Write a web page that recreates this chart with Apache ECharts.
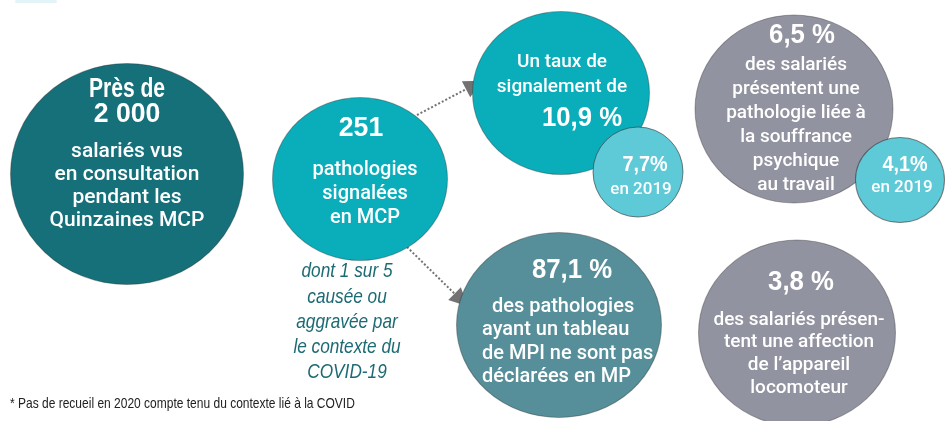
<!DOCTYPE html>
<html>
<head>
<meta charset="utf-8">
<script src="https://cdn.jsdelivr.net/npm/echarts@6/dist/echarts.min.js"></script>
<style>
html,body{margin:0;padding:0;background:#fff;}
#main{width:952px;height:421px;}
</style>
</head>
<body>
<div id="main"></div>
<script>
// chiffres de l'infographie
var headValues = ['2 000', '251', '10,9 %', '87,1 %', '6,5 %', '3,8 %'];
var prior2019 = ['7,7%', '4,1%'];
var priorLabel = 'en 2019';
var headPrefix = 'Près de';
var captions = [
    'salariés vus\nen consultation\npendant les\nQuinzaines MCP',
    'pathologies\nsignalées\nen MCP',
    'Un taux de\nsignalement de',
    '  des pathologies\nayant un tableau\nde MPI ne sont pas\ndéclarées en MP',
    'des salariés\nprésentent une\npathologie liée à\nla souffrance\npsychique\nau travail',
    'des salariés présen-\ntent une affection\nde l\u2019appareil\nlocomoteur'
];
var covidNote = 'dont 1 sur 5\ncausée ou\naggravée par\nle contexte du\nCOVID-19';
var footnote = '* Pas de recueil en 2020 compte tenu du contexte lié à la COVID';

// mise en page des bulles : centre x, centre y, largeur, hauteur
var bubbleBox = [
    [127, 174, 233, 221],
    [360, 179, 175, 163],
    [561, 93, 177, 163],
    [559, 325, 205, 185],
    [794, 109, 198, 188],
    [797, 333, 197, 186]
];
var bubbleColor = ['#15707a', '#0aaebb', '#0aaebb', '#568f99', '#9293a0', '#9293a0'];
var smallBox = [
    [638, 172, 90, 90],
    [900, 180, 89, 85]
];
var smallColor = '#5ec9d7';
var arrowPaths = [
    [[417, 115], [474, 85]],
    [[407, 247], [461, 300]]
];

var LIB = '"Liberation Sans", Arial, sans-serif';
var BODY = '"Roboto", "Liberation Sans", sans-serif';
var HEAD = 'bold 28px ' + LIB;

var myChart = echarts.init(document.getElementById('main'));

var circleData = [];
for (var i = 0; i < bubbleBox.length; i++) {
    circleData.push({
        value: bubbleBox[i],
        itemStyle: {color: bubbleColor[i], borderColor: 'rgba(40,40,40,0.35)', borderWidth: 1, opacity: 1}
    });
}
for (var j = 0; j < smallBox.length; j++) {
    circleData.push({
        value: smallBox[j],
        itemStyle: {color: smallColor, borderColor: 'rgba(50,50,50,0.6)', borderWidth: 1, opacity: 1}
    });
}

// texte blanc par défaut, sx = compression horizontale
function txt(text, x, y, font, opts) {
    opts = opts || {};
    return {
        type: 'text',
        z: 100,
        x: x,
        y: y,
        scaleX: opts.sx || 1,
        style: {
            text: text,
            x: 0,
            y: 0,
            font: font,
            fill: opts.fill || '#fff',
            align: opts.align || 'center',
            verticalAlign: 'middle',
            lineHeight: opts.lh || 24
        }
    };
}

var texts = [
    {type: 'rect', shape: {x: 15, y: 0, width: 42, height: 3, r: 2}, style: {fill: '#e3f4f8'}},
    txt(headPrefix, 127, 90, 'bold 27px ' + LIB, {sx: 0.78}),
    txt(headValues[0], 127, 114, HEAD, {sx: 0.95}),
    txt(captions[0], 127, 186, '500 21px ' + BODY, {lh: 23}),
    txt(headValues[1], 361, 128, HEAD, {sx: 0.95}),
    txt(captions[1], 365, 194, '500 20px ' + BODY, {lh: 24}),
    txt(captions[2], 562, 75, '500 19px ' + BODY, {lh: 25}),
    txt(headValues[2], 582, 118, HEAD, {sx: 0.92}),
    txt(prior2019[0], 645, 165, 'bold 22px ' + LIB, {sx: 0.9}),
    txt(priorLabel, 641, 190, '500 17px ' + BODY),
    txt(headValues[3], 572, 270, HEAD, {sx: 0.92}),
    txt(captions[3], 482, 342, '500 20px ' + BODY, {lh: 23.3, align: 'left'}),
    txt(headValues[4], 802, 35, HEAD, {sx: 0.92}),
    txt(captions[4], 796, 125, '500 19px ' + BODY, {lh: 24}),
    txt(prior2019[1], 905, 165, 'bold 22px ' + LIB, {sx: 0.9}),
    txt(priorLabel, 902, 188, '500 17px ' + BODY),
    txt(headValues[5], 801, 282, HEAD, {sx: 0.92}),
    txt(captions[5], 799, 354, '500 19px ' + BODY, {lh: 22.7}),
    txt(covidNote, 347, 322, 'italic 21px ' + LIB, {fill: '#1c6a73', lh: 25.3, sx: 0.82}),
    txt(footnote, 10, 404, '15px ' + LIB, {fill: '#222', align: 'left', sx: 0.8})
];

option = {
    animation: false,
    grid: {left: 0, right: 0, top: 0, bottom: 0},
    xAxis: {type: 'value', min: 0, max: 952, show: false},
    yAxis: {type: 'value', min: 0, max: 421, inverse: true, show: false},
    series: [
        {
            type: 'lines',
            coordinateSystem: 'cartesian2d',
            symbol: ['none', 'triangle'],
            symbolSize: 18,
            lineStyle: {color: '#727272', width: 2, type: 'dotted', opacity: 1},
            data: arrowPaths.map(function (p) { return {coords: p}; })
        },
        {
            type: 'scatter',
            symbol: 'circle',
            symbolSize: function (v) { return [v[2], v[3]]; },
            data: circleData
        }
    ],
    graphic: texts
};
myChart.setOption(option);
</script>
</body>
</html>
